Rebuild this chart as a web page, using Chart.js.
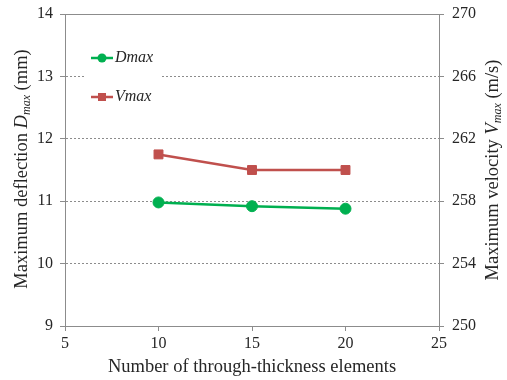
<!DOCTYPE html>
<html>
<head>
<meta charset="utf-8">
<script src="https://cdn.jsdelivr.net/npm/chart.js@4/dist/chart.umd.min.js"></script>
<style>
  html, body { margin: 0; padding: 0; background: #ffffff; }
  #wrap { width: 507px; height: 380px; }
</style>
</head>
<body>
<div id="wrap"><canvas id="c" width="507" height="380"></canvas></div>
<script>
// Mesh study: number of through-thickness elements vs. maximum response
const elementCounts = [10, 15, 20];
const deflectionMm = [10.98, 10.92, 10.88];
const velocityMs = [261.0, 260.0, 260.0];

const xTicks = [5, 10, 15, 20, 25];
const deflectionTicks = [9, 10, 11, 12, 13, 14];
const velocityTicks = [250, 254, 258, 262, 266, 270];

const GREEN = '#00b050';
const RED = '#c0504d';
const AXIS = '#8c8c8c';
const TEXT = '#262626';
const SERIF = "'Liberation Serif', 'Times New Roman', serif";

function toPoints(xs, ys) {
  return xs.map((x, i) => ({ x: x, y: ys[i] }));
}

// Draws a run of text pieces (regular / italic / subscript) centred on (cx, cy)
function drawRichText(ctx, parts, cx, cy, rotate) {
  ctx.save();
  ctx.translate(cx, cy);
  if (rotate) ctx.rotate(-Math.PI / 2);
  let total = 0;
  parts.forEach(p => { ctx.font = p.font; total += ctx.measureText(p.text).width; });
  let x = -total / 2;
  ctx.fillStyle = TEXT;
  ctx.textBaseline = 'middle';
  ctx.textAlign = 'left';
  parts.forEach(p => {
    ctx.font = p.font;
    ctx.fillText(p.text, x, p.dy || 0);
    x += ctx.measureText(p.text).width;
  });
  ctx.restore();
}

// Fixed axis band width; vertical label overhang is left to the layout padding
function fixVertical(width) {
  return s => { s.width = width; s.paddingTop = 0; s.paddingBottom = 0; };
}

const decorations = {
  id: 'decorations',
  beforeDatasetsDraw(chart) {
    const { ctx, chartArea } = chart;
    // top frame line
    ctx.save();
    ctx.strokeStyle = AXIS;
    ctx.lineWidth = 1;
    ctx.beginPath();
    ctx.moveTo(chartArea.left, chartArea.top + 0.5);
    ctx.lineTo(chartArea.right, chartArea.top + 0.5);
    ctx.stroke();
    ctx.restore();
  },
  afterDatasetsDraw(chart) {
    const { ctx, chartArea } = chart;
    // legend box inside the plot, top-left
    const lx = chartArea.left + 19;
    const ty = chartArea.top;
    ctx.save();
    ctx.fillStyle = '#ffffff';
    ctx.fillRect(lx, ty + 26, 77, 72);
    const entries = [
      { label: 'Dmax', color: GREEN, shape: 'circle', y: ty + 44 },
      { label: 'Vmax', color: RED, shape: 'rect', y: ty + 83 }
    ];
    entries.forEach(e => {
      ctx.strokeStyle = e.color;
      ctx.lineWidth = 2.5;
      ctx.beginPath();
      ctx.moveTo(lx + 7, e.y);
      ctx.lineTo(lx + 29, e.y);
      ctx.stroke();
      ctx.fillStyle = e.color;
      if (e.shape === 'circle') {
        ctx.beginPath();
        ctx.arc(lx + 18, e.y, 4.5, 0, Math.PI * 2);
        ctx.fill();
      } else {
        ctx.fillRect(lx + 14, e.y - 4, 8, 8);
      }
      ctx.fillStyle = TEXT;
      ctx.font = 'italic 16px ' + SERIF;
      ctx.textBaseline = 'middle';
      ctx.textAlign = 'left';
      ctx.fillText(e.label, lx + 31, e.y);
    });
    ctx.restore();
  },
  afterDraw(chart) {
    const { ctx, chartArea } = chart;
    const reg = '18.5px ' + SERIF;
    const ital = 'italic 18.5px ' + SERIF;
    const sub = 'italic 12px ' + SERIF;
    drawRichText(ctx, [
      { text: 'Maximum deflection ', font: reg },
      { text: 'D', font: ital },
      { text: 'max', font: sub, dy: 5 },
      { text: ' (mm)', font: reg }
    ], 22, 169, true);
    drawRichText(ctx, [
      { text: 'Maximum velocity ', font: reg },
      { text: 'V', font: ital },
      { text: 'max', font: sub, dy: 5 },
      { text: ' (m/s)', font: reg }
    ], 493, 170, true);
    drawRichText(ctx, [
      { text: 'Number of through-thickness elements', font: reg }
    ], (chartArea.left + chartArea.right) / 2, 367, false);
  }
};

const tickFont = { family: SERIF, size: 16 };

new Chart(document.getElementById('c'), {
  type: 'line',
  data: {
    datasets: [
      {
        label: 'Dmax',
        data: toPoints(elementCounts, deflectionMm),
        yAxisID: 'y',
        borderColor: GREEN,
        backgroundColor: GREEN,
        borderWidth: 2.5,
        pointStyle: 'circle',
        pointRadius: 5.5,
        pointBorderWidth: 1,
        tension: 0
      },
      {
        label: 'Vmax',
        data: toPoints(elementCounts, velocityMs),
        yAxisID: 'y2',
        borderColor: RED,
        backgroundColor: RED,
        borderWidth: 2.5,
        pointStyle: 'rect',
        pointRadius: 6.3,
        pointBorderWidth: 1,
        tension: 0
      }
    ]
  },
  options: {
    responsive: false,
    animation: false,
    layout: { padding: { top: 14, left: 0, right: 0, bottom: 0 } },
    plugins: { legend: { display: false }, tooltip: { enabled: false } },
    scales: {
      x: {
        type: 'linear',
        position: 'bottom',
        min: 5, max: 25,
        afterBuildTicks: s => { s.ticks = xTicks.map(v => ({ value: v })); },
        afterFit: s => { s.height = 54; },
        ticks: { font: tickFont, color: TEXT, padding: 3, maxRotation: 0 },
        grid: { drawOnChartArea: false, drawTicks: true, tickLength: 5, tickColor: AXIS },
        border: { display: true, color: AXIS, width: 1 }
      },
      y: {
        type: 'linear',
        position: 'left',
        min: 9, max: 14,
        afterBuildTicks: s => { s.ticks = deflectionTicks.map(v => ({ value: v })); },
        afterFit: fixVertical(65),
        ticks: { font: tickFont, color: TEXT, padding: 7 },
        grid: {
          color: c => (c.tick && (c.tick.value === 9 || c.tick.value === 14)) ? 'rgba(0,0,0,0)' : AXIS,
          lineWidth: 1,
          tickLength: 5,
          tickColor: AXIS,
          tickBorderDash: []
        },
        border: { display: true, color: AXIS, width: 1, dash: [2, 2] }
      },
      y2: {
        type: 'linear',
        position: 'right',
        min: 250, max: 270,
        afterBuildTicks: s => { s.ticks = velocityTicks.map(v => ({ value: v })); },
        afterFit: fixVertical(68),
        ticks: { font: tickFont, color: TEXT, padding: 8 },
        grid: { drawOnChartArea: false, tickLength: 5, tickColor: AXIS },
        border: { display: true, color: AXIS, width: 1 }
      }
    }
  },
  plugins: [decorations]
});
</script>
</body>
</html>
